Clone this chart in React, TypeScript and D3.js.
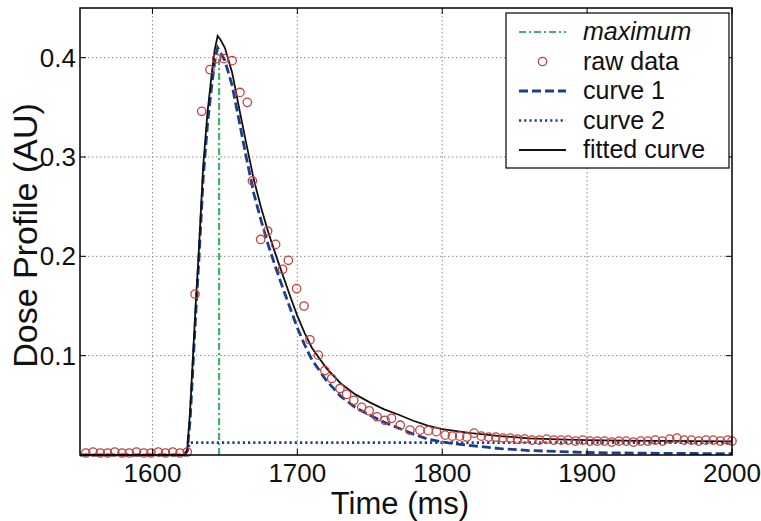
import React from "react";
import * as d3 from "d3";

// ---- data ----
const rawTimes = [
  1554, 1559, 1564, 1569, 1574, 1579, 1584, 1589, 1594, 1599, 1604, 1609, 1614, 1619, 1624,
  1629.4, 1634, 1639.7, 1644.3, 1649.4, 1655, 1660.4, 1665.5, 1669, 1674.7, 1679.5, 1685,
  1689.8, 1693.8, 1699.5, 1704.6, 1708.7, 1714.5, 1719, 1723.7, 1729.4, 1734, 1739, 1744.4,
  1749.6, 1755, 1760.5, 1765, 1771, 1777.7, 1784.6, 1790.4, 1796, 1802,
  1807, 1812, 1817, 1822, 1827, 1832, 1837, 1842, 1847, 1852, 1857, 1862, 1867, 1872, 1877,
  1882, 1887, 1892, 1897, 1902, 1907, 1912, 1917, 1922, 1927, 1932, 1937, 1942, 1947, 1952,
  1957, 1962, 1967, 1972, 1977, 1982, 1987, 1992, 1997, 2000,
];
const rawValues = [
  0.002, 0.003, 0.002, 0.002, 0.003, 0.002, 0.002, 0.003, 0.002, 0.002, 0.003, 0.002, 0.003, 0.002, 0.003,
  0.162, 0.346, 0.388, 0.399, 0.399, 0.397, 0.365, 0.355, 0.276, 0.217, 0.2255, 0.212,
  0.187, 0.196, 0.1675, 0.15, 0.116, 0.1005, 0.085, 0.077, 0.067, 0.061, 0.055, 0.048,
  0.0445, 0.0385, 0.035, 0.037, 0.03, 0.025, 0.025, 0.0245, 0.0235, 0.02,
  0.019, 0.019, 0.018, 0.022, 0.019, 0.018, 0.018, 0.017, 0.017, 0.016, 0.016, 0.015, 0.015, 0.016, 0.015,
  0.015, 0.015, 0.014, 0.015, 0.014, 0.014, 0.014, 0.013, 0.014, 0.014, 0.013, 0.014, 0.014, 0.015, 0.014,
  0.016, 0.017, 0.015, 0.015, 0.014, 0.015, 0.015, 0.014, 0.015, 0.014,
];

const curveTimes = [
  1550, 1600, 1622, 1624, 1626, 1628, 1630, 1632, 1635, 1638, 1641, 1643, 1645, 1647, 1650,
  1655, 1660, 1665, 1670, 1675, 1680, 1685, 1690, 1695, 1700, 1705, 1710, 1720, 1730, 1740,
  1750, 1760, 1770, 1780, 1790, 1800, 1820, 1840, 1860, 1880, 1900, 1925, 1950, 1975, 2000,
];
const fittedValues = [
  0, 0, 0, 0.005, 0.045, 0.1, 0.155, 0.205, 0.29, 0.345, 0.385, 0.408, 0.422, 0.418, 0.41,
  0.385, 0.348, 0.312, 0.277, 0.249, 0.224, 0.202, 0.181, 0.16, 0.14, 0.123, 0.108, 0.0875, 0.072, 0.061,
  0.053, 0.046, 0.0405, 0.0345, 0.0295, 0.026, 0.022, 0.019, 0.0168, 0.0158, 0.015, 0.0145, 0.0142, 0.014, 0.0138,
];
const curve1Values = [
  0, 0, 0, 0.004, 0.035, 0.09, 0.145, 0.195, 0.278, 0.333, 0.373, 0.396, 0.41, 0.405, 0.397,
  0.372, 0.335, 0.298, 0.263, 0.236, 0.211, 0.189, 0.168, 0.148, 0.128, 0.111, 0.096, 0.075, 0.059, 0.048,
  0.04, 0.033, 0.027, 0.021, 0.016, 0.013, 0.0095, 0.0065, 0.0045, 0.0035, 0.0025, 0.002, 0.0017, 0.0015, 0.0013,
];
const curve2Times = [1550, 1623, 1626, 2000];
const curve2Values = [0, 0, 0.0125, 0.0125];

const maxTime = 1646;
const maxValue = 0.399;

const xTicks = [1600, 1700, 1800, 1900, 2000];
const yTicks = [0.1, 0.2, 0.3, 0.4];
const xDomain = [1550, 2000];
const yDomain = [0, 0.45];

const legendLabels = ["maximum", "raw data", "curve 1", "curve 2", "fitted curve"];

// ---- styling ----
const FONT = "'Liberation Sans', Arial, Helvetica, sans-serif";
const GREEN = "#3fb36a";
const BLUE = "#1b3f8c";
const RED = "#c8403c";

export default function App() {
  const W = 761;
  const H = 521;
  const m = { left: 80, right: 732, top: 8, bottom: 455 };
  const x = d3.scaleLinear().domain(xDomain).range([m.left, m.right]);
  const y = d3.scaleLinear().domain(yDomain).range([m.bottom, m.top]);

  const line = d3
    .line<[number, number]>()
    .x((d) => x(d[0]))
    .y((d) => y(d[1]));

  const fitted = line(curveTimes.map((t, i) => [t, fittedValues[i]]));
  const c1 = line(curveTimes.map((t, i) => [t, curve1Values[i]]));
  const c2 = line(curve2Times.map((t, i) => [t, curve2Values[i]]));
  const maxLine = line([
    [maxTime, 0],
    [maxTime, maxValue],
  ]);

  const gridStyle = { stroke: "#8a8a8a", strokeWidth: 1, strokeDasharray: "1.5,2.5" };
  const tickLen = 6;

  const legend = { x0: 506, y0: 13, x1: 729, y1: 168 };
  const rowY = [32, 61.5, 91, 120.5, 150];
  const sampleX0 = 519;
  const sampleX1 = 566;
  const textX = 583;

  return (
    <svg
      width={W}
      height={H}
      style={{ position: "absolute", left: 0, top: 0, background: "#fff" }}
      fontFamily={FONT}
    >
      <rect x={0} y={0} width={W} height={H} fill="#fff" />
      {/* grid */}
      {xTicks
        .filter((t) => t < xDomain[1])
        .map((t) => (
          <line key={"gx" + t} x1={x(t)} x2={x(t)} y1={m.top} y2={m.bottom} {...gridStyle} />
        ))}
      {yTicks.map((t) => (
        <line key={"gy" + t} x1={m.left} x2={m.right} y1={y(t)} y2={y(t)} {...gridStyle} />
      ))}

      {/* curves */}
      <path d={maxLine || ""} fill="none" stroke={GREEN} strokeWidth={2.2} strokeDasharray="7,3,2,3" />
      <path d={c2 || ""} fill="none" stroke={BLUE} strokeWidth={2.6} strokeDasharray="2.2,3" />
      <path d={c1 || ""} fill="none" stroke={BLUE} strokeWidth={2.8} strokeDasharray="9,4" />
      <path d={fitted || ""} fill="none" stroke="#111" strokeWidth={1.8} />
      {rawTimes.map((t, i) => (
        <circle key={"p" + i} cx={x(t)} cy={y(rawValues[i])} r={4.2} fill="none" stroke={RED} strokeWidth={1.3} />
      ))}

      {/* axes box */}
      <rect
        x={m.left}
        y={m.top}
        width={m.right - m.left}
        height={m.bottom - m.top}
        fill="none"
        stroke="#000"
        strokeWidth={1.5}
      />
      {xTicks.map((t) => (
        <g key={"xt" + t}>
          <line x1={x(t)} x2={x(t)} y1={m.bottom} y2={m.bottom - tickLen} stroke="#000" />
          <line x1={x(t)} x2={x(t)} y1={m.top} y2={m.top + tickLen} stroke="#000" />
          <text x={x(t)} y={482} fontSize={26} textAnchor="middle" fill="#111">
            {t}
          </text>
        </g>
      ))}
      {yTicks.map((t) => (
        <g key={"yt" + t}>
          <line x1={m.left} x2={m.left + tickLen} y1={y(t)} y2={y(t)} stroke="#000" />
          <line x1={m.right} x2={m.right - tickLen} y1={y(t)} y2={y(t)} stroke="#000" />
          <text x={76} y={y(t) + 9} fontSize={26} textAnchor="end" fill="#111">
            {t.toFixed(1)}
          </text>
        </g>
      ))}

      {/* axis labels */}
      <text x={400} y={514} fontSize={31} textAnchor="middle" fill="#111">
        Time (ms)
      </text>
      <text
        transform={`translate(37,${(m.top + m.bottom) / 2 + 4}) rotate(-90)`}
        fontSize={34}
        textAnchor="middle"
        fill="#111"
      >
        Dose Profile (AU)
      </text>

      {/* legend */}
      <rect
        x={legend.x0}
        y={legend.y0}
        width={legend.x1 - legend.x0}
        height={legend.y1 - legend.y0}
        fill="#fff"
        stroke="#000"
        strokeWidth={1.2}
      />
      <line x1={sampleX0} x2={sampleX1} y1={rowY[0]} y2={rowY[0]} stroke={GREEN} strokeWidth={2.2} strokeDasharray="7,3,2,3" />
      <circle cx={(sampleX0 + sampleX1) / 2} cy={rowY[1]} r={4.2} fill="none" stroke={RED} strokeWidth={1.3} />
      <line x1={sampleX0} x2={sampleX1} y1={rowY[2]} y2={rowY[2]} stroke={BLUE} strokeWidth={2.8} strokeDasharray="9,4" />
      <line x1={sampleX0} x2={sampleX1} y1={rowY[3]} y2={rowY[3]} stroke={BLUE} strokeWidth={2.6} strokeDasharray="2.2,3" />
      <line x1={sampleX0} x2={sampleX1} y1={rowY[4]} y2={rowY[4]} stroke="#111" strokeWidth={1.8} />
      {legendLabels.map((lab, i) => (
        <text
          key={lab}
          x={textX}
          y={rowY[i] + 8}
          fontSize={25}
          fill="#111"
          fontStyle={i === 0 ? "italic" : "normal"}
        >
          {lab}
        </text>
      ))}
    </svg>
  );
}
